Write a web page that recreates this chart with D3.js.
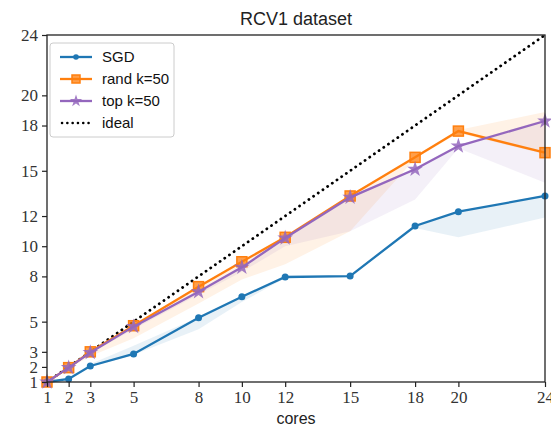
<html>
<head>
	<script src="https://d3js.org/d3.v7.min.js"></script>
	<style>
		body { margin: 0; background: #fff; }
	</style>
</head>
<body>
	<script>
		var cores = [1, 2, 3, 5, 8, 10, 12, 15, 18, 20, 24];
		var tickValues = [1, 2, 3, 5, 8, 10, 12, 15, 18, 20, 24];

		var sgdMean  = [1, 1.2, 2.06, 2.86, 5.26, 6.65, 7.96, 8.02, 11.34, 12.29, 13.33];
		var sgdLow   = [1, 1.1, 2.0, 2.8, 4.5, 6.3, 7.9, 8.0, 11.2, 10.6, 11.9];
		var sgdHigh  = [1, 1.2, 2.2, 3.4, 5.3, 6.7, 8.0, 8.05, 11.4, 12.3, 13.4];

		var randMean = [1, 1.95, 3.0, 4.73, 7.32, 8.97, 10.59, 13.33, 15.89, 17.63, 16.2];
		var randLow  = [1, 1.9, 2.7, 3.9, 6.2, 7.8, 8.8, 11.0, 15.8, 17.5, 16.1];
		var randHigh = [1, 2.0, 3.0, 4.8, 7.4, 9.0, 10.7, 13.4, 16.0, 17.7, 18.9];

		var topMean  = [1, 1.95, 2.95, 4.67, 6.98, 8.6, 10.54, 13.24, 15.1, 16.64, 18.3];
		var topLow   = [1, 1.9, 2.9, 4.5, 6.8, 8.3, 10.0, 11.0, 13.1, 16.5, 14.2];
		var topHigh  = [1, 2.0, 3.0, 4.7, 7.0, 8.7, 10.6, 13.3, 15.2, 16.7, 18.4];

		var outerWidth = 551, outerHeight = 427;
		var margin = { left: 47, top: 35, right: 6, bottom: 45 };
		var innerWidth  = outerWidth  - margin.left - margin.right;
		var innerHeight = outerHeight - margin.top - margin.bottom;

		var svg = d3.select("body").append("svg")
			.attr("width", outerWidth)
			.attr("height", outerHeight);

		var g = svg.append("g")
			.attr("transform", "translate(" + margin.left + "," + margin.top + ")");

		var xScale = d3.scaleLinear().domain([1, 24]).range([0, innerWidth]);
		var yScale = d3.scaleLinear().domain([1, 24]).range([innerHeight, 0]);

		var series = [
			{ name: "SGD", color: "#1f77b4", mean: sgdMean, low: sgdLow, high: sgdHigh, marker: "circle" },
			{ name: "rand k=50", color: "#ff7f0e", mean: randMean, low: randLow, high: randHigh, marker: "square" },
			{ name: "top k=50", color: "#9467bd", mean: topMean, low: topLow, high: topHigh, marker: "star" }
		];

		var area = d3.area()
			.x(function(d) { return xScale(d.x); })
			.y0(function(d) { return yScale(d.lo); })
			.y1(function(d) { return yScale(d.hi); });
		var line = d3.line()
			.x(function(d) { return xScale(d.x); })
			.y(function(d) { return yScale(d.y); });

		// bands
		series.forEach(function(s) {
			var pts = cores.map(function(c, i) { return { x: c, lo: s.low[i], hi: s.high[i] }; });
			g.append("path").attr("d", area(pts))
				.attr("fill", s.color).attr("fill-opacity", 0.1);
		});

		// ideal
		g.append("path")
			.attr("d", line([{ x: 1, y: 1 }, { x: 24, y: 24 }]))
			.attr("fill", "none").attr("stroke", "#000")
			.attr("stroke-width", 2.8)
			.attr("stroke-dasharray", "0.1,5.6")
			.attr("stroke-linecap", "round");

		function drawMarker(sel, type, color, size) {
			if (type === "circle") {
				sel.append("circle").attr("r", size / 2).attr("fill", color);
			} else if (type === "square") {
				sel.append("rect").attr("x", -size / 2).attr("y", -size / 2)
					.attr("width", size).attr("height", size)
					.attr("fill", color).attr("fill-opacity", 0.75)
					.attr("stroke", color).attr("stroke-width", 1.5);
			} else {
				sel.append("path").attr("d", d3.symbol().type(d3.symbolStar).size(size * size * 0.45)())
					.attr("fill", color).attr("fill-opacity", 0.85);
			}
		}

		var markerSize = { circle: 7, square: 10, star: 13 };

		series.forEach(function(s) {
			var pts = cores.map(function(c, i) { return { x: c, y: s.mean[i] }; });
			g.append("path").attr("d", line(pts))
				.attr("fill", "none").attr("stroke", s.color).attr("stroke-width", 2.3);
			g.selectAll(null).data(pts).enter().append("g")
				.attr("transform", function(d) { return "translate(" + xScale(d.x) + "," + yScale(d.y) + ")"; })
				.each(function() { drawMarker(d3.select(this), s.marker, s.color, markerSize[s.marker]); });
		});

		// axes
		var xAxis = d3.axisBottom(xScale).tickValues(tickValues).tickSize(5).tickPadding(4);
		var yAxis = d3.axisLeft(yScale).tickValues(tickValues).tickSize(5).tickPadding(4);

		var xAxisG = g.append("g").attr("transform", "translate(0," + innerHeight + ")").call(xAxis);
		var yAxisG = g.append("g").call(yAxis);
		[xAxisG, yAxisG].forEach(function(a) {
			a.select(".domain").remove();
			a.selectAll("line").attr("stroke", "#222").attr("stroke-width", 1.2);
			a.selectAll("text").attr("font-family", "Liberation Serif, serif")
				.attr("font-size", 17).attr("fill", "#333");
		});

		g.append("rect").attr("width", innerWidth).attr("height", innerHeight)
			.attr("fill", "none").attr("stroke", "#222").attr("stroke-width", 1.3);

		svg.append("text").attr("x", margin.left + innerWidth / 2).attr("y", 25)
			.attr("text-anchor", "middle").attr("font-family", "Liberation Sans, sans-serif")
			.attr("font-size", 18).attr("fill", "#222").text("RCV1 dataset");

		svg.append("text").attr("x", margin.left + innerWidth / 2).attr("y", 424)
			.attr("text-anchor", "middle").attr("font-family", "Liberation Sans, sans-serif")
			.attr("font-size", 16).attr("fill", "#222").text("cores");

		// legend
		var legend = g.append("g").attr("transform", "translate(3,8)");
		legend.append("rect").attr("width", 124).attr("height", 94).attr("rx", 3)
			.attr("fill", "#fff").attr("fill-opacity", 0.8)
			.attr("stroke", "#ccc").attr("stroke-width", 1);
		var entries = series.concat([{ name: "ideal", color: "#000", marker: "none" }]);
		entries.forEach(function(s, i) {
			var row = legend.append("g").attr("transform", "translate(10," + (14 + i * 22) + ")");
			var ln = row.append("line").attr("x1", 0).attr("x2", 32)
				.attr("stroke", s.color).attr("stroke-width", s.marker === "none" ? 2.5 : 2.3);
			if (s.marker === "none") {
				ln.attr("stroke-dasharray", "0.1,5.2").attr("stroke-linecap", "round").attr("x1", 2);
			} else {
				drawMarker(row.append("g").attr("transform", "translate(16,0)"), s.marker, s.color, markerSize[s.marker] * 0.8);
			}
			row.append("text").attr("x", 42).attr("y", 5)
				.attr("font-family", "Liberation Sans, sans-serif").attr("font-size", 15)
				.attr("fill", "#111").text(s.name);
		});
	</script>
</body>
</html>
